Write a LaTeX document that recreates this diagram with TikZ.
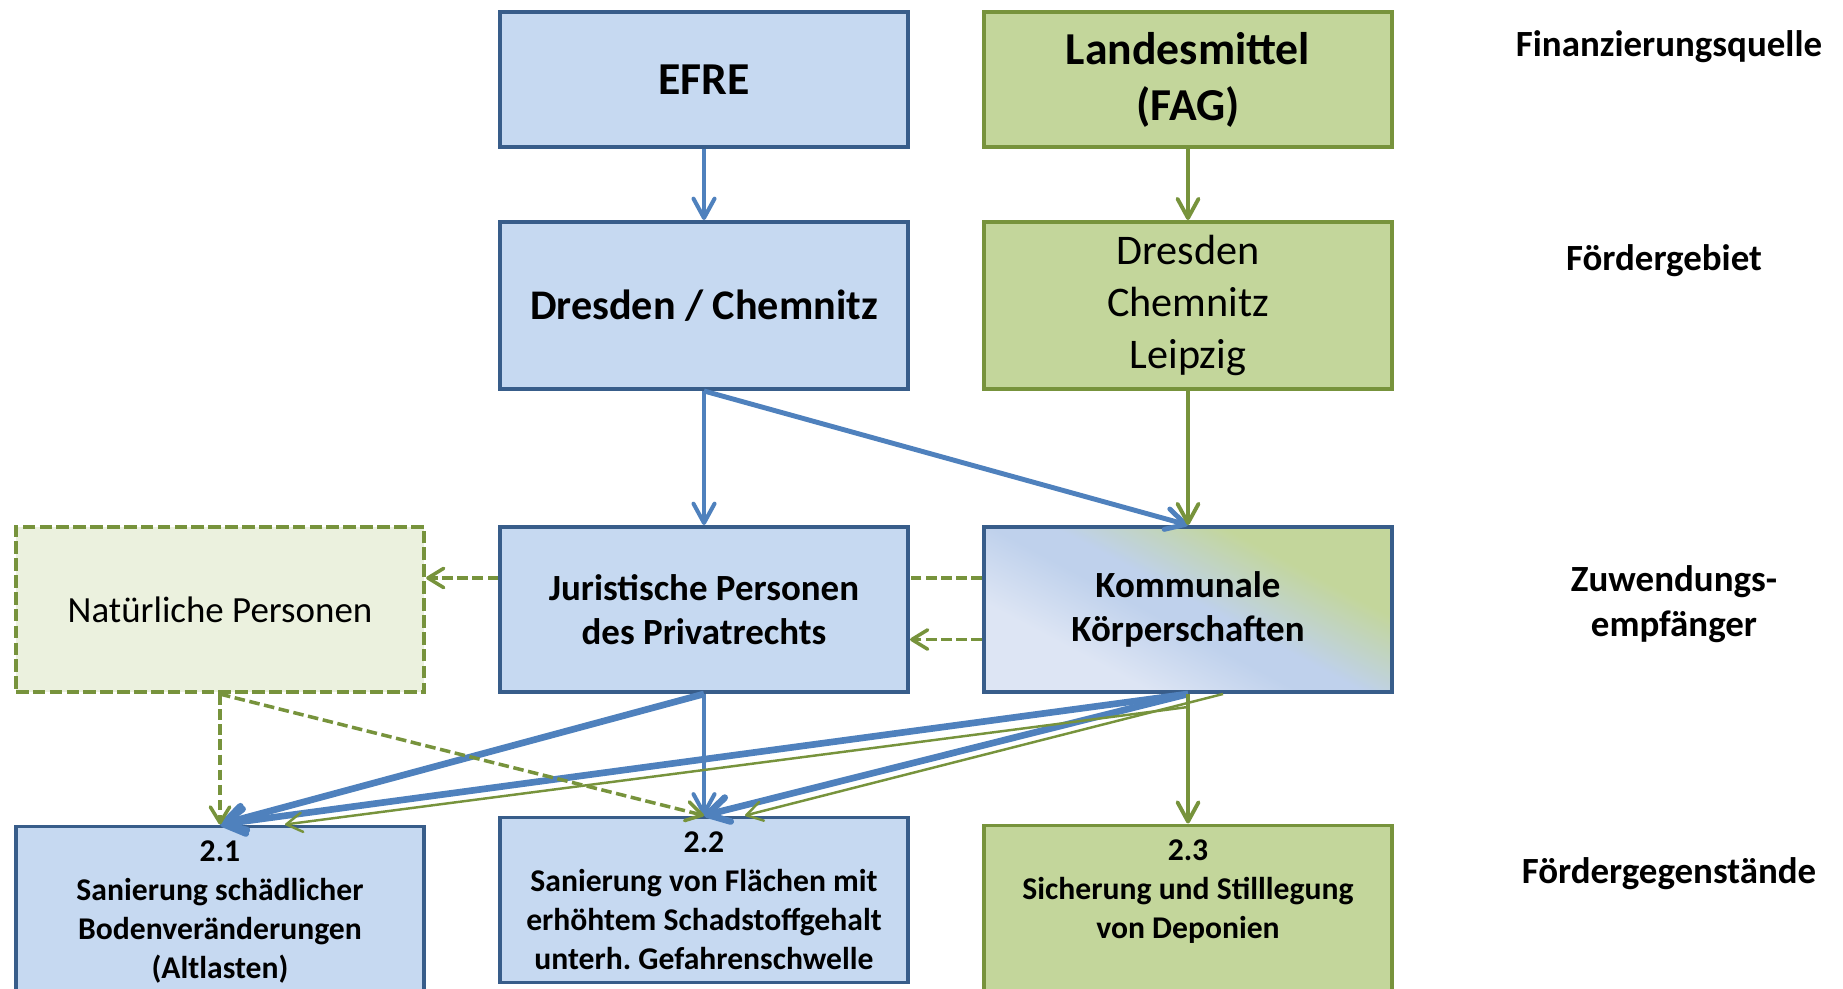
\documentclass[tikz,border=0pt]{standalone}
\usepackage{fontspec}
\setmainfont{Carlito}
\usepackage{tikz}
\usetikzlibrary{arrows.meta,backgrounds}

\definecolor{blaufill}{HTML}{C6D9F1}
\definecolor{blaumitte}{HTML}{BFD1EC}
\definecolor{blaurand}{HTML}{385D8A}
\definecolor{blaupfeil}{HTML}{4F81BD}
\definecolor{blauhell}{HTML}{DDE5F4}
\definecolor{gruenfill}{HTML}{C3D69B}
\definecolor{gruenrand}{HTML}{77933C}
\definecolor{gruenhell}{HTML}{EBF1DE}

\pgfdeclareverticalshading{kommshade}{100bp}{color(0bp)=(blauhell); color(32bp)=(blauhell);
    color(46bp)=(blaumitte); color(52bp)=(blaumitte); color(68bp)=(gruenfill); color(100bp)=(gruenfill)}

\begin{document}
\begin{tikzpicture}[x=0.01cm, y=-0.01cm,
    box/.style={draw, line width=1.1pt, minimum width=4.08cm, inner sep=0pt, align=center},
    bluebox/.style={box, draw=blaurand, fill=blaufill},
    greenbox/.style={box, draw=gruenrand, fill=gruenfill},
    titel/.style={font=\fontsize{13}{15.9}\selectfont\bfseries},
    gebiet/.style={font=\fontsize{12}{14.8}\selectfont},
    empf/.style={font=\fontsize{10.5}{12.7}\selectfont\bfseries},
    ziel/.style={bluebox, anchor=north, inner ysep=0.145cm, font=\fontsize{9}{11.05}\selectfont\bfseries},
    ebene/.style={align=center, font=\fontsize{10.5}{12.7}\selectfont\bfseries},
    blaupf/.style={draw=blaupfeil, line width=1.15pt, -{Straight Barb[round,length=5.5pt,width=6pt]}},
    blaudick/.style={draw=blaupfeil, line width=1.9pt, -{Straight Barb[round,length=6pt,width=7pt]}},
    gruenpf/.style={draw=gruenrand, line width=1.1pt, -{Straight Barb[round,length=5.5pt,width=6pt]}},
    gruenduenn/.style={draw=gruenrand, line width=0.7pt, -{Straight Barb[round,length=4.5pt,width=5.5pt]}},
    gruengestr/.style={draw=gruenrand, line width=1pt, dash pattern=on 3pt off 1.3pt,
        -{Straight Barb[round,length=4.5pt,width=5.5pt]}}
]
    \useasboundingbox (0,0) rectangle (1843,988);
    \clip (0,0) rectangle (1843,988);

    % Finanzierungsquelle
    \node[bluebox, titel, minimum height=1.35cm] (efre) at (704,79.5) {EFRE};
    \node[greenbox, titel, minimum height=1.35cm] (landes) at (1188,79.5) {Landesmittel\\(FAG)};

    % Foerdergebiet
    \node[bluebox, font=\fontsize{12}{14.6}\selectfont\bfseries, minimum height=1.67cm] (dc) at (704,305.5) {Dresden / Chemnitz};
    \node[greenbox, gebiet, minimum height=1.67cm] (ddcl) at (1188,305.5) {Dresden\\Chemnitz\\Leipzig};

    % Zuwendungsempfaenger
    \node[box, draw=gruenrand, fill=gruenhell, line width=1.15pt, dash pattern=on 3.6pt off 1.2pt,
        minimum height=1.65cm, font=\fontsize{10.5}{12.7}\selectfont] (nat) at (220,609.5) {Natürliche Personen};
    \node[bluebox, empf, minimum height=1.65cm] (jur) at (704,609.5) {Juristische Personen\\des Privatrechts};
    \node[box, empf, draw=blaurand, minimum height=1.65cm,
        shading=kommshade, shading angle=-28] (komm) at (1188,609.5) {Kommunale\\Körperschaften};

    % Foerdergegenstaende
    \node[ziel] (z21) at (220,824.5) {\parbox[t][1.45cm][t]{4cm}{\centering 2.1\\Sanierung schädlicher\\Bodenveränderungen\\(Altlasten)}};
    \node[ziel] (z22) at (704,815.5) {\parbox[t][1.36cm][t]{4cm}{\centering 2.2\\Sanierung von Flächen mit\\erhöhtem Schadstoffgehalt\\unterh.\ Gefahrenschwelle}};
    \node[ziel, draw=gruenrand, fill=gruenfill] (z23) at (1188,823.5) {\parbox[t][1.45cm][t]{4cm}{\centering 2.3\\Sicherung und Stilllegung\\von Deponien}};

    % Ebenen
    \node[ebene] (quelle) at (1669,47) {Finanzierungsquelle};
    \node[ebene] (gebiet) at (1664,261) {Fördergebiet};
    \node[ebene] (empfaenger) at (1674,604) {Zuwendungs-\\empfänger};
    \node[ebene] (gegenstand) at (1669,874) {Fördergegenstände};

    % Verbindungen
    \begin{pgfonlayer}{background}
        \draw[gruengestr] ([yshift=3.15mm]komm.west) -- ([yshift=3.15mm]nat.east);
    \end{pgfonlayer}
    \draw[gruengestr] ([yshift=-3mm]komm.west) -- ([yshift=-3mm]jur.east);

    \draw[blaupf] (efre) -- (dc);
    \draw[blaupf] (dc) -- (jur);
    \draw[blaupf, line width=1.4pt] (dc.south) -- (komm.north);
    \draw[gruenpf] (landes) -- (ddcl);
    \draw[gruenpf] (ddcl) -- (komm);

    \draw[blaudick] (jur.south) -- (z21.north);
    \draw[blaupf] (jur.south) -- (z22.north);
    \draw[blaudick] (komm.south) -- (z21.north);
    \draw[blaudick] (komm.south) -- (z22.north);

    \draw[gruengestr] (nat.south) -- (z21.north);
    \draw[gruengestr] (nat.south) -- (z22.north);

    \coordinate (abzweig) at ([yshift=-1.3mm]komm.south);
    \draw[gruenpf] (komm.south) -- (z23.north);
    \draw[gruenduenn] (abzweig) -- ([xshift=6.5mm]z21.north);
    \draw[gruenduenn] ([xshift=3.5mm]komm.south) -- ([xshift=4.1mm]z22.north);
\end{tikzpicture}
\end{document}
